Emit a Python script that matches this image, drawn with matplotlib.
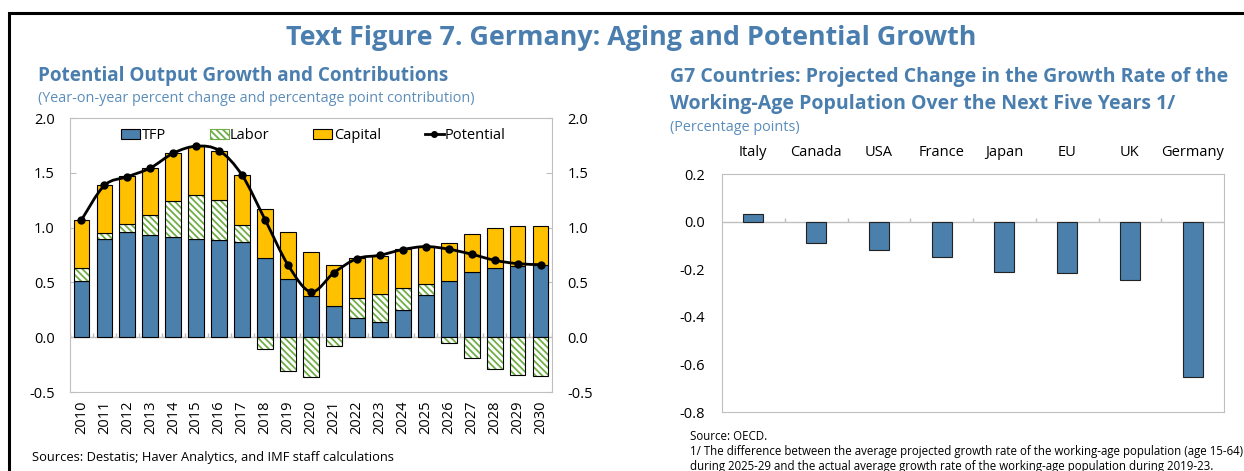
import numpy as np
import matplotlib.pyplot as plt
from matplotlib.path import Path
from matplotlib.patches import PathPatch, Patch, Rectangle
from matplotlib.lines import Line2D

plt.rcParams['font.family'] = ['Open Sans', 'DejaVu Sans']
plt.rcParams['hatch.linewidth'] = 1.3

# left panel data
years = [str(y) for y in range(2010, 2031)]
tfp = [0.51, 0.895, 0.962, 0.928, 0.913, 0.895, 0.888, 0.867, 0.72, 0.527, 0.374,
       0.282, 0.175, 0.135, 0.245, 0.389, 0.509, 0.591, 0.634, 0.653, 0.659]
labor = [0.12, 0.055, 0.074, 0.187, 0.331, 0.404, 0.368, 0.156, -0.104, -0.306, -0.361,
         -0.076, 0.183, 0.263, 0.208, 0.092, -0.055, -0.19, -0.291, -0.343, -0.358]
capital = [0.44, 0.435, 0.431, 0.429, 0.435, 0.441, 0.447, 0.454, 0.45, 0.432, 0.40,
           0.377, 0.368, 0.347, 0.35, 0.352, 0.349, 0.353, 0.362, 0.361, 0.358]
potential = [1.07, 1.385, 1.464, 1.544, 1.679, 1.743, 1.703, 1.477, 1.072, 0.659, 0.414,
             0.588, 0.717, 0.748, 0.80, 0.827, 0.803, 0.757, 0.702, 0.671, 0.662]

# right panel data
countries = ['Italy', 'Canada', 'USA', 'France', 'Japan', 'EU', 'UK', 'Germany']
change = [0.03, -0.09, -0.12, -0.15, -0.21, -0.215, -0.245, -0.655]

W, H = 1244, 471
BLUE_T = '#4a7eae'
BLUE_S = '#5b8dbb'
C_TFP = '#4a80ab'
C_CAP = '#ffc000'
C_LAB = '#70ad47'
GRID = '#bfbfbf'

fig = plt.figure(figsize=(W / 100, H / 100), dpi=100)


def px_ax(l, t, r, b):
    return fig.add_axes([l / W, 1 - b / H, (r - l) / W, (b - t) / H])


def ftext(x, y, s, **kw):
    fig.text(x / W, 1 - y / H, s, va='baseline', **kw)


# border
fig.add_artist(Rectangle((9 / W, -0.1), 1.2, 1 - 13 / H + 0.1, transform=fig.transFigure,
                         fill=False, edgecolor='black', linewidth=2.2))

ftext(631, 45, 'Text Figure 7. Germany: Aging and Potential Growth', ha='center',
      fontsize=19.4, fontweight='bold', color=BLUE_T)

# ---- left panel
ftext(38, 81, 'Potential Output Growth and Contributions', fontsize=13.6, fontweight='bold', color=BLUE_T)
ftext(38, 102, '(Year-on-year percent change and percentage point contribution)', fontsize=10.4, color=BLUE_S)

ax = px_ax(70, 118, 552, 392)
x = np.arange(len(years))
bw = 0.69
tfp_a = np.array(tfp)
lab_a = np.array(labor)
cap_a = np.array(capital)
pos_base = tfp_a + np.clip(lab_a, 0, None)
lab_bottom = np.where(lab_a >= 0, tfp_a, 0)

ax.bar(x, tfp_a, bw, color=C_TFP, edgecolor='black', linewidth=0.8, zorder=2)
ax.bar(x, lab_a, bw, bottom=lab_bottom, color='white', edgecolor=C_LAB, hatch='\\\\\\\\\\',
       linewidth=0, zorder=2)
ax.bar(x, lab_a, bw, bottom=lab_bottom, fill=False, edgecolor='black', linewidth=0.8, zorder=2)
ax.bar(x, cap_a, bw, bottom=pos_base, color=C_CAP, edgecolor='black', linewidth=0.8, zorder=2)

# smoothed potential line (bezier through points)
pts = np.column_stack([x, potential]).astype(float)
verts = [pts[0]]
codes = [Path.MOVETO]
for i in range(len(pts) - 1):
    p0 = pts[i - 1] if i > 0 else pts[i]
    p1, p2 = pts[i], pts[i + 1]
    p3 = pts[i + 2] if i + 2 < len(pts) else pts[i + 1]
    c1 = p1 + (p2 - p0) / 6
    c2 = p2 - (p3 - p1) / 6
    verts += [c1, c2, p2]
    codes += [Path.CURVE4] * 3
ax.add_patch(PathPatch(Path(verts, codes), fill=False, edgecolor='black', linewidth=2, zorder=4))
ax.plot(x, potential, 'o', color='black', markersize=5, zorder=5)

ax.axhline(0, color=GRID, linewidth=1, zorder=1)
ax.vlines(np.arange(len(years) + 1) - 0.5, 0, 0.035, color=GRID, linewidth=1, zorder=1)
ax.set_xlim(-0.5, len(years) - 0.5)
ax.set_ylim(-0.5, 2.0)
ax.set_yticks([-0.5, 0, 0.5, 1.0, 1.5, 2.0])
ax.set_yticklabels(['-0.5', '0.0', '0.5', '1.0', '1.5', '2.0'])
ax.tick_params(axis='y', labelsize=10.5, length=4, color=GRID, direction='in', pad=11,
               left=True, right=True, labelleft=True, labelright=True)
ax.set_xticks(x)
ax.set_xticklabels(years, rotation=90, fontsize=10.5)
ax.tick_params(axis='x', length=0, pad=6)
for s in ax.spines.values():
    s.set_color(GRID)

handles = [Patch(facecolor=C_TFP, edgecolor='black', linewidth=0.8),
           Patch(facecolor='white', edgecolor=C_LAB, hatch='\\\\\\\\\\', linewidth=0.8),
           Patch(facecolor=C_CAP, edgecolor='black', linewidth=0.8),
           Line2D([], [], color='black', marker='o', markersize=4, linewidth=2)]
ax.legend(handles, ['TFP', 'Labor', 'Capital', 'Potential'], ncol=4, loc='upper left',
          bbox_to_anchor=(0.085, 1.0), frameon=False, fontsize=10.5, handlelength=1.3,
          handletextpad=0.1, columnspacing=3.0, borderaxespad=0.3)

ftext(32, 461, 'Sources: Destatis; Haver Analytics, and IMF staff calculations', fontsize=9.3)

# ---- right panel
ftext(670, 82, 'G7 Countries: Projected Change in the Growth Rate of the', fontsize=14.0,
      fontweight='bold', color=BLUE_T)
ftext(670, 109, 'Working-Age Population Over the Next Five Years 1/', fontsize=14.0,
      fontweight='bold', color=BLUE_T)
ftext(670, 131, '(Percentage points)', fontsize=10.4, color=BLUE_S)

ax2 = px_ax(722, 174, 1224, 412)
xc = np.arange(len(countries))
ax2.bar(xc, change, 0.32, color=C_TFP, edgecolor='#222222', linewidth=0.8, zorder=2)
ax2.axhline(0, color=GRID, linewidth=1, zorder=1)
ax2.vlines(np.arange(1, len(countries)) - 0.5, 0, 0.015, color=GRID, linewidth=1, zorder=1)
ax2.set_xlim(-0.5, len(countries) - 0.5)
ax2.set_ylim(-0.8, 0.2)
ax2.set_yticks([-0.8, -0.6, -0.4, -0.2, 0.0, 0.2])
ax2.set_yticklabels(['-0.8', '-0.6', '-0.4', '-0.2', '0.0', '0.2'])
ax2.tick_params(axis='y', labelsize=10.5, length=0, pad=12)
ax2.xaxis.tick_top()
ax2.set_xticks(xc)
ax2.set_xticklabels(countries, fontsize=10.5)
ax2.tick_params(axis='x', length=0, pad=10)
for s in ax2.spines.values():
    s.set_color(GRID)

ftext(690, 440, 'Source: OECD.', fontsize=8.3)
ftext(690, 455, '1/ The difference between the average projected growth rate of the working-age population (age 15-64)',
      fontsize=8.3)
ftext(690, 470, 'during 2025-29 and the actual average growth rate of the working-age population during 2019-23.',
      fontsize=8.3)

fig.savefig('out.png', dpi=100)
